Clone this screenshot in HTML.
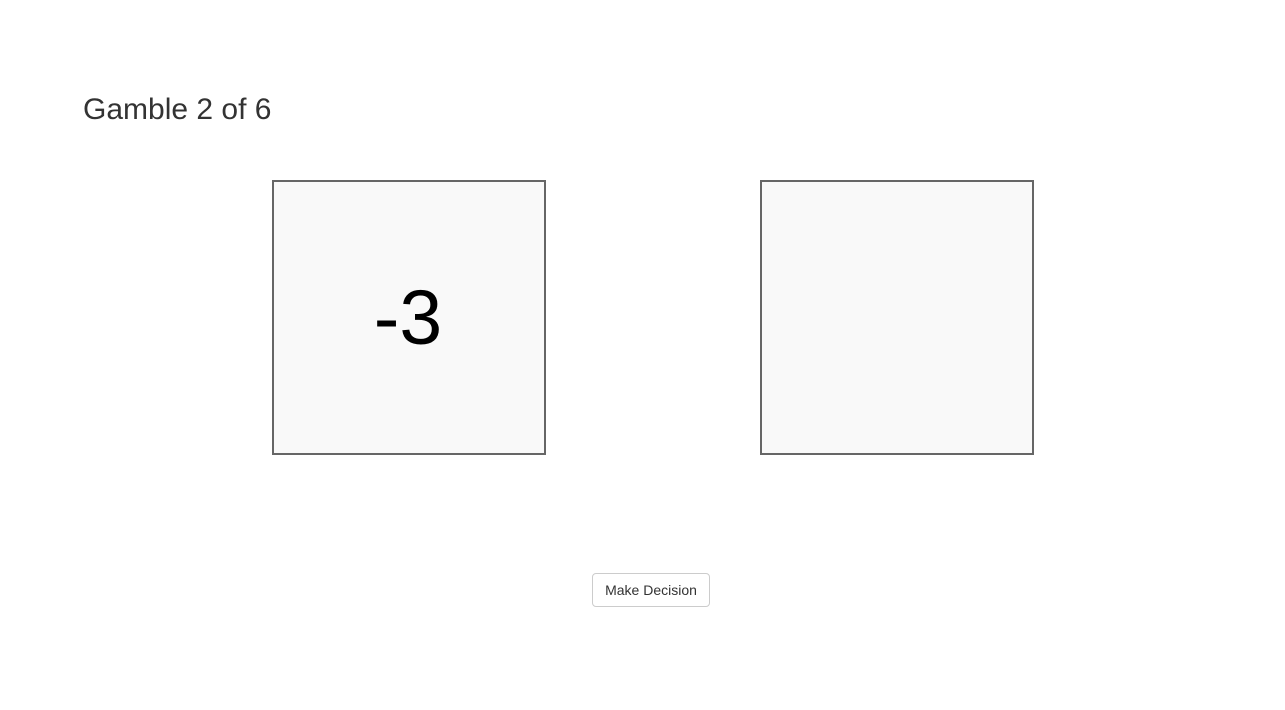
<!DOCTYPE html>
<html><head><meta charset="utf-8"><style>
body{margin:0;width:1285px;height:710px;background:#fff;font-family:"Liberation Sans",Arial,sans-serif;position:relative;overflow:hidden}
.t{position:absolute;left:83px;top:92px;font-size:30px;color:#333;line-height:36px;margin:0;font-weight:normal}
.box{position:absolute;top:180px;width:270px;height:271px;border:2px solid #666;background:#f9f9f9;display:flex;align-items:center;justify-content:center;font-size:77px;color:#000}
.btn{position:absolute;left:592px;top:573px;width:118px;height:34px;border:1px solid #ccc;border-radius:4px;background:#fff;font-size:14px;color:#333;font-family:"Liberation Sans",Arial,sans-serif;padding:0}
</style></head><body>
<h1 class="t">Gamble 2 of 6</h1>
<div class="box" style="left:272px"><span style="position:relative;top:1px;left:-1px">-3</span></div>
<div class="box" style="left:760px"></div>
<button class="btn">Make Decision</button>
</body></html>
